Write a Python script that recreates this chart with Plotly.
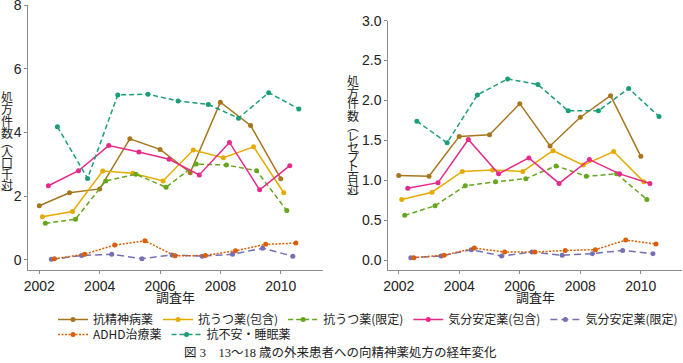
import plotly.graph_objects as go

years = [2002, 2003, 2004, 2005, 2006, 2007, 2008, 2009, 2010]
series_names = ["抗精神病薬", "抗うつ薬(包含)", "抗うつ薬(限定)", "気分安定薬(包含)",
                "気分安定薬(限定)", "ADHD治療薬", "抗不安・睡眠薬"]
colors = ["#a6761d", "#e6ab02", "#66a61e", "#e7298a", "#7570b3", "#d95f02", "#1b9e77"]
dashes = ["solid", "solid", "5px,3px", "solid", "7px,4px", "2px,1.5px", "5px,3px"]
dodge = [0.0, 0.1, 0.2, 0.3, 0.4, 0.5, 0.6]
legend_row = ["legend", "legend", "legend", "legend", "legend", "legend2", "legend2"]

# left: per 1000 population
per_pop = [
    [1.70, 2.11, 2.23, 3.80, 3.47, 2.74, 4.95, 4.22, 2.55],
    [1.36, 1.52, 2.79, 2.72, 2.48, 3.45, 3.21, 3.55, 2.11],
    [1.15, 1.28, 2.48, 2.69, 2.28, 3.01, 2.98, 2.80, 1.55],
    [2.33, 2.80, 3.59, 3.39, 3.16, 2.67, 3.69, 2.20, 2.96],
    [0.02, 0.14, 0.18, 0.04, 0.16, 0.12, 0.18, 0.37, 0.12],
    [0.04, 0.18, 0.47, 0.60, 0.13, 0.14, 0.29, 0.49, 0.53],
    [4.18, 2.56, 5.18, 5.20, 4.99, 4.88, 4.45, 5.25, 4.74],
]
# right: per 100 receipts
per_receipt = [
    [1.06, 1.05, 1.55, 1.57, 1.96, 1.43, 1.79, 2.06, 1.30],
    [0.76, 0.85, 1.11, 1.13, 1.11, 1.37, 1.19, 1.36, 0.98],
    [0.56, 0.68, 0.93, 0.98, 1.02, 1.18, 1.05, 1.08, 0.76],
    [0.90, 0.97, 1.51, 1.08, 1.28, 0.96, 1.26, 1.08, 0.96],
    [0.03, 0.05, 0.13, 0.05, 0.10, 0.06, 0.08, 0.12, 0.08],
    [0.03, 0.06, 0.15, 0.10, 0.10, 0.12, 0.13, 0.25, 0.20],
    [1.74, 1.47, 2.07, 2.27, 2.20, 1.87, 1.87, 2.15, 1.80],
]

left_title = ["処", "方", "件", "数", "︵", "人", "口", "千", "対", "︶"]
right_title = ["処", "方", "件", "数", "︵", "レ", "セ", "プ", "ト", "百", "対", "︶"]
x_title = "調査年"
caption = "図 3　13〜18 歳の外来患者への向精神薬処方の経年変化"

W, H = 683, 363
fig = go.Figure()

for i, name in enumerate(series_names):
    xs = [y + dodge[i] for y in years]
    common = dict(mode="lines+markers", name=name, legendgroup=name,
                  line=dict(color=colors[i], width=1.5, dash=dashes[i]),
                  marker=dict(color=colors[i], size=5))
    fig.add_trace(go.Scatter(x=xs, y=per_pop[i], xaxis="x", yaxis="y", showlegend=True,
                             legend=legend_row[i], **common))
    fig.add_trace(go.Scatter(x=xs, y=per_receipt[i], xaxis="x2", yaxis="y2", showlegend=False, **common))

tickfont = dict(family="Liberation Sans, Arial, sans-serif", size=14, color="#222")
axis_common = dict(showline=True, linecolor="#8c8c8c", linewidth=1, showgrid=False, zeroline=False,
                   ticks="outside", ticklen=3, tickcolor="#8c8c8c", tickfont=tickfont, automargin=False,
                   ticklabeloverflow="allow")
legend_font = dict(family="Noto Sans CJK JP, Liberation Sans", size=12, color="#222")

fig.update_layout(
    width=W, height=H, margin=dict(l=0, r=0, t=0, b=0, autoexpand=False),
    paper_bgcolor="white", plot_bgcolor="white",
    xaxis=dict(domain=[28.3 / W, 322.7 / W], range=[2001.635, 2011.39], tickvals=[2002, 2004, 2006, 2008, 2010],
               anchor="y", **axis_common),
    yaxis=dict(domain=[1 - 270 / H, 1 - 5 / H], range=[-0.314, 8], tickvals=[0, 2, 4, 6, 8],
               anchor="x", **axis_common),
    xaxis2=dict(domain=[388.3 / W, 682.3 / W], range=[2001.656, 2011.37], tickvals=[2002, 2004, 2006, 2008, 2010],
                anchor="y2", **axis_common),
    yaxis2=dict(domain=[1 - 270 / H, 1 - 20.7 / H], range=[-0.125, 3.0], tickvals=[0, 0.5, 1, 1.5, 2, 2.5, 3],
                tickformat=".1f", anchor="x2", **axis_common),
    legend=dict(orientation="h", x=53 / W, xanchor="left", y=1 - 305 / H, yanchor="top",
                font=legend_font, bgcolor="rgba(0,0,0,0)", tracegroupgap=0, itemwidth=30),
    legend2=dict(orientation="h", x=53 / W, xanchor="left", y=1 - 320 / H, yanchor="top",
                 font=legend_font, bgcolor="rgba(0,0,0,0)", tracegroupgap=0, itemwidth=30),
)

jp = "Noto Sans CJK JP"
anns = []
left_pos = [96, 108, 120, 132, 141, 151, 162, 173, 184, 194]
for ch, py in zip(left_title, left_pos):
    anns.append(dict(text=ch, x=6.5 / W, y=1 - py / H, xref="paper", yref="paper", showarrow=False,
                     xanchor="center", yanchor="middle", font=dict(family=jp, size=12, color="#222")))
right_pos = [80, 92, 103, 115, 125, 135, 146, 156, 166, 177, 188, 198]
for ch, py in zip(right_title, right_pos):
    anns.append(dict(text=ch, x=353 / W, y=1 - py / H, xref="paper", yref="paper", showarrow=False,
                     xanchor="center", yanchor="middle", font=dict(family=jp, size=12, color="#222")))
for cx in [175.5, 535.3]:
    anns.append(dict(text=x_title, x=cx / W, y=1 - 296 / H, xref="paper", yref="paper", showarrow=False,
                     xanchor="center", yanchor="middle", font=dict(family=jp, size=13, color="#222")))
anns.append(dict(text=caption, x=340 / W, y=1 - 352 / H, xref="paper", yref="paper", showarrow=False,
                 xanchor="center", yanchor="middle",
                 font=dict(family="Liberation Serif, Noto Sans CJK JP", size=12.5, color="#222")))
fig.update_layout(annotations=anns)

fig.write_html("out.html", config={"displayModeBar": False},
               post_script="document.body.style.margin='0px';")
